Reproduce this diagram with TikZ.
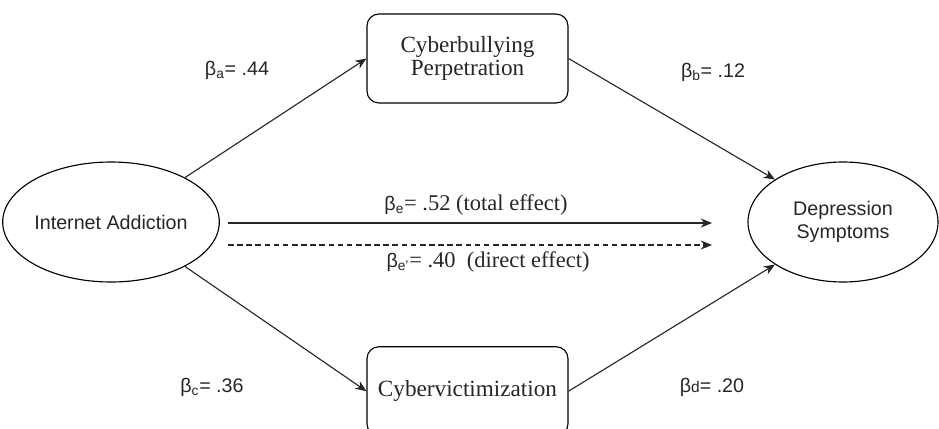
\documentclass[tikz,border=0pt]{standalone}
\usepackage{fontspec}
\setmainfont{Liberation Serif}
\setsansfont{Liberation Sans}
\usetikzlibrary{arrows.meta,shapes}

\begin{document}
\begin{tikzpicture}[>={Stealth[length=8pt,width=6.5pt]},
  var/.style={ellipse,draw,line width=0.8pt,inner sep=0pt,align=center,text=black!85,font=\sffamily\fontsize{14}{16.5}\selectfont},
  med/.style={rectangle,rounded corners=8.5pt,draw,line width=0.8pt,minimum width=5.025cm,minimum height=2.225cm,align=center,text=black!85,font=\fontsize{16.5}{16.5}\selectfont},
  link/.style={->,line width=0.8pt,black!85},
  coef/.style={inner sep=0pt,text=black!85,font=\sffamily\fontsize{14}{16}\selectfont}]
\clip (0,0) rectangle (23.475,10.7);
% variables
\node[var,minimum width=5.05cm,minimum height=3cm] (ia) at (2.775,5.15) {Internet Addiction};
\node[var,minimum width=4.75cm,minimum height=3cm] (ds) at (21.075,5.15) {Depression\\Symptoms};
\node[med] (cp) at (11.6875,9.2375) {Cyberbullying\\Perpetration};
\node[med] (cv) at (11.6875,0.92) {Cybervictimization};
% indirect paths
\draw[link] (ia.31) -- (cp.west);
\draw[link] (cp.east) -- (ds.148);
\draw[link] (ia.-31) -- (cv.west);
\draw[link] (cv.east) -- (ds.212);
% total and direct effect
\coordinate (tot-s) at (5.7,5.125);
\coordinate (tot-e) at (17.8,5.125);
\coordinate (dir-s) at (5.7,4.575);
\coordinate (dir-e) at (17.8,4.575);
\draw[link,line width=1.1pt] (tot-s) -- (tot-e);
\draw[link,dash pattern=on 4pt off 2.5pt] (dir-s) -- (dir-e);
% coefficients
\node[coef] (ba) at (5.925,8.95) {β\textsubscript{a}= .44};
\node[coef] (bb) at (17.825,8.9) {β\textsubscript{b}= .12};
\node[coef] (bc) at (5.3,1.025) {β\textsubscript{c}= .36};
\node[coef] (bd) at (17.8,1.025) {β{\fontsize{11}{12}\selectfont d}= .20};
\node[coef] (be) at (11.9,5.575) {β\textsubscript{e}{\rmfamily\fontsize{16}{16}\selectfont= .52 (total effect)}};
\node[coef] (bf) at (12.2,4.15) {β\textsubscript{e'}{\rmfamily\fontsize{16}{16}\selectfont= .40\ \ (direct effect)}};
\end{tikzpicture}
\end{document}
